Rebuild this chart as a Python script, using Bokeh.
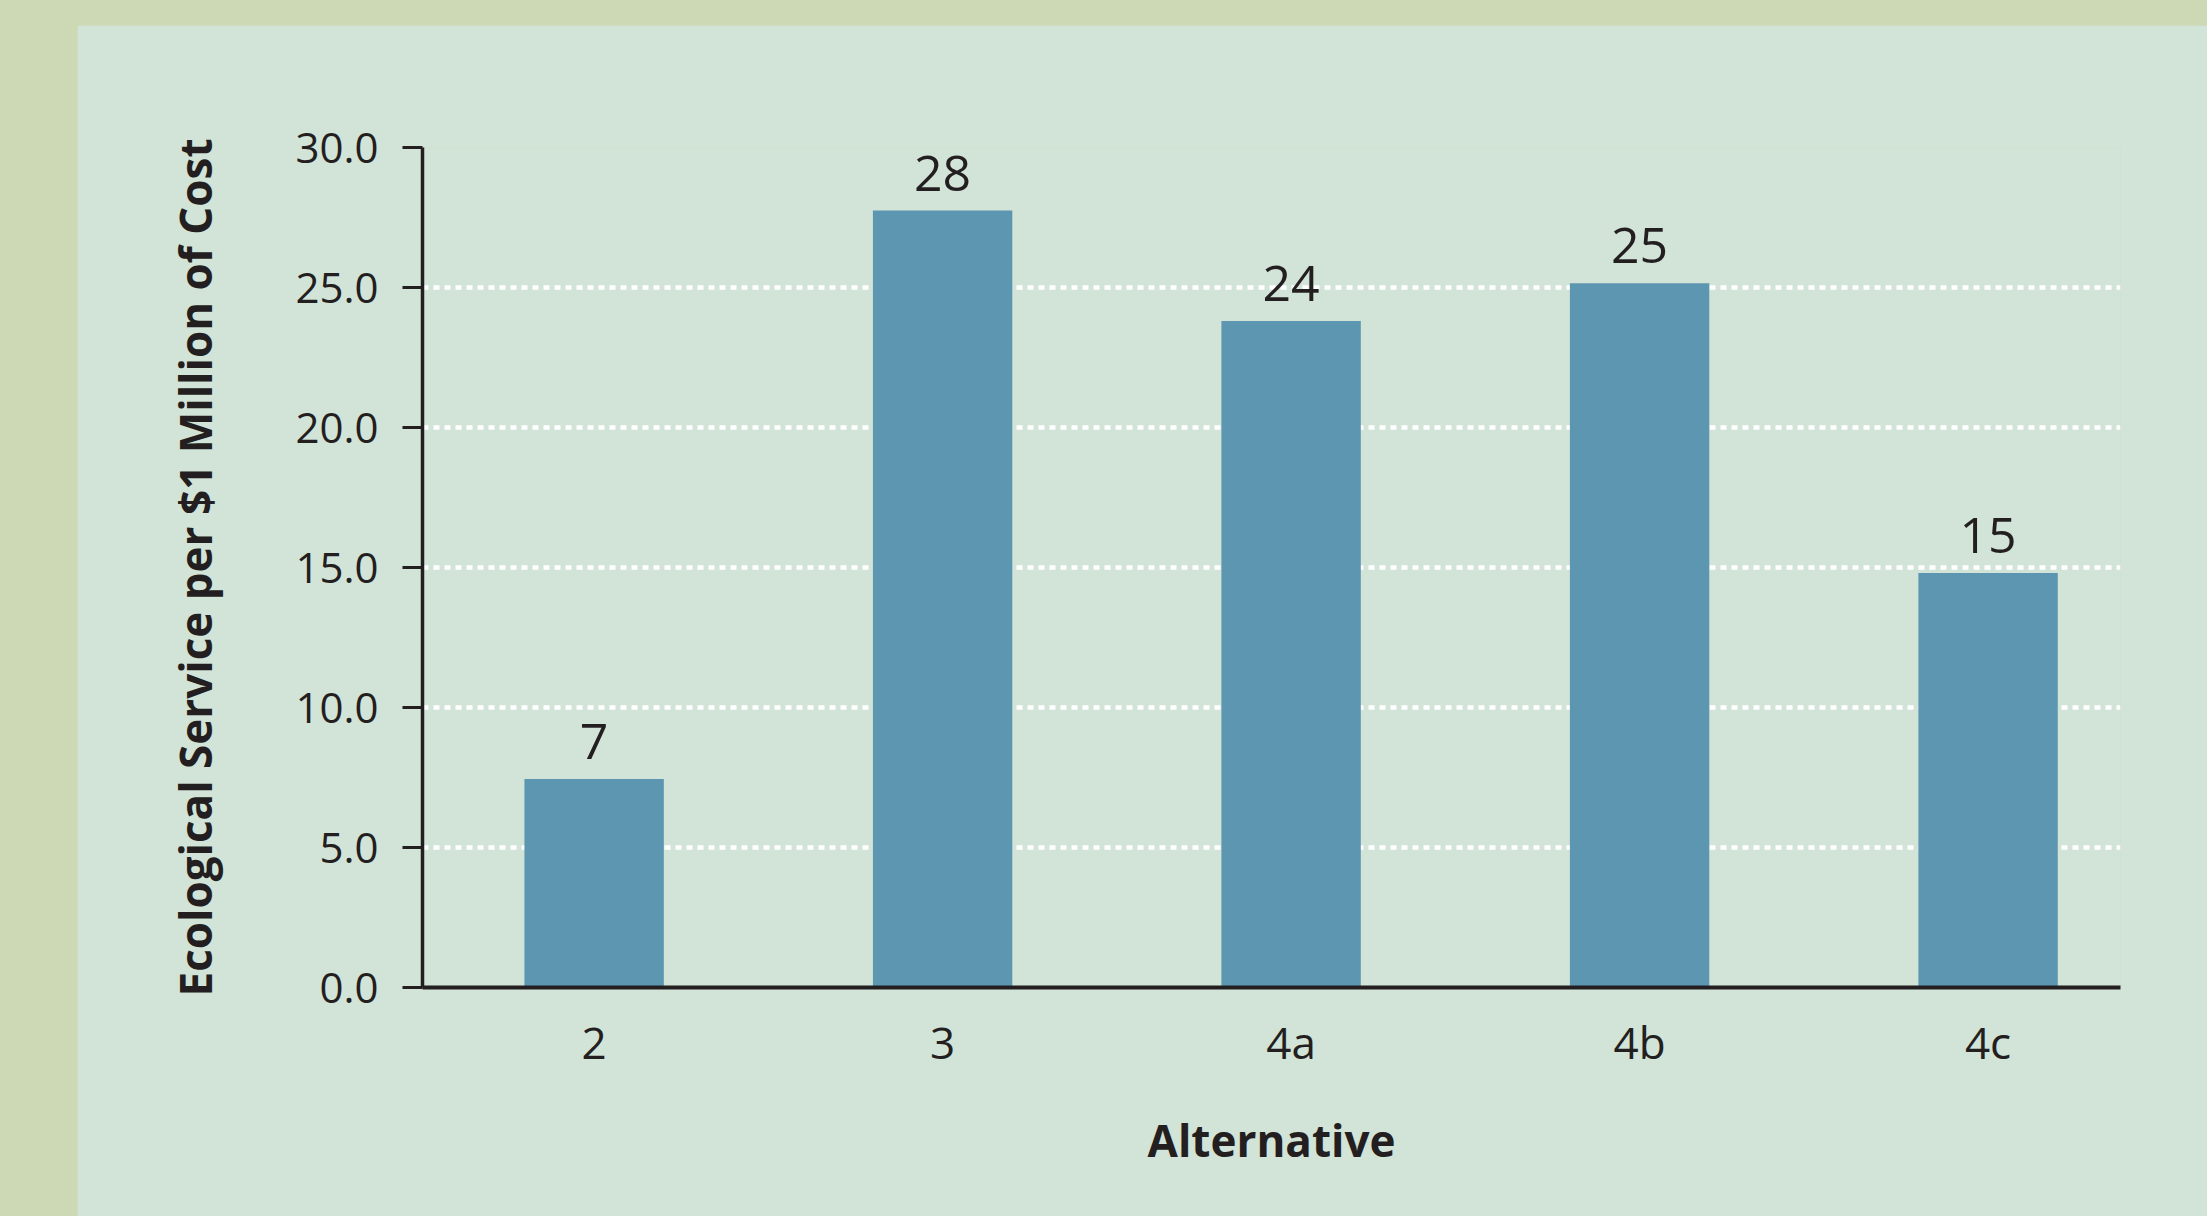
from bokeh.plotting import figure
from bokeh.models import ColumnDataSource, LabelSet, NumeralTickFormatter, Range1d, FixedTicker
from bokeh.core.properties import value
from bokeh.layouts import column
from bokeh.embed import file_html
from bokeh.resources import INLINE

# ---- data ----
categories = ["2", "3", "4a", "4b", "4c"]
values = [7.45, 27.75, 23.8, 25.15, 14.8]
value_labels = ["7", "28", "24", "25", "15"]
y_ticks = [0, 5, 10, 15, 20, 25, 30]
x_title = "Alternative"
y_title = "Ecological Service per $1 Million of Cost"

# ---- style ----
PANEL = "#d2e3d8"
OUTER = "#ccd9b4"
BAR = "#5c96b1"
INK = "#231f20"

positions = list(range(len(categories)))
src = ColumnDataSource(dict(x=positions, cat=categories, top=values, label=value_labels))

p = figure(width=2130, height=1191, output_backend="svg", toolbar_location=None,
           x_range=Range1d(-0.4925, 4.38), y_range=Range1d(0, 30),
           min_border_left=345, min_border_right=87, min_border_top=122,
           min_border_bottom=229)
p.margin = (25, 0, 0, 77)
p.background_fill_color = PANEL
p.border_fill_color = PANEL
p.outline_line_color = None

p.vbar(x="x", top="top", bottom=0, width=0.4, source=src,
       fill_color=BAR, line_color=None)

labels = LabelSet(x="x", y="top", text="label", source=src, y_offset=20,
                  text_align="center", text_baseline="alphabetic",
                  text_font=value("Open Sans"), text_font_size=value("50px"),
                  text_color=INK)
p.add_layout(labels)

# grid
p.xgrid.visible = False
p.ygrid.ticker = FixedTicker(ticks=y_ticks[1:])
p.ygrid.grid_line_color = "white"
p.ygrid.grid_line_width = 4.5
p.ygrid.grid_line_dash = "6 5"

# y axis
ya = p.yaxis[0]
ya.ticker = FixedTicker(ticks=y_ticks)
ya.formatter = NumeralTickFormatter(format="0.0")
ya.axis_line_color = INK
ya.axis_line_width = 3.5
ya.major_tick_line_color = INK
ya.major_tick_line_width = 3
ya.major_tick_out = 20
ya.major_tick_in = 0
ya.minor_tick_line_color = None
ya.major_label_text_font = "Open Sans"
ya.major_label_text_font_size = "42px"
ya.major_label_text_color = INK
ya.major_label_standoff = 24
ya.axis_label = y_title
ya.axis_label_text_font = "Open Sans"
ya.axis_label_text_font_style = "bold"
ya.axis_label_text_font_size = "44px"
ya.axis_label_text_color = INK
ya.axis_label_standoff = 67

# x axis
xa = p.xaxis[0]
xa.ticker = FixedTicker(ticks=positions)
xa.major_label_overrides = {i: c for i, c in zip(positions, categories)}
xa.axis_line_color = INK
xa.axis_line_width = 4
xa.major_tick_line_color = None
xa.major_tick_out = 0
xa.major_tick_in = 0
xa.minor_tick_line_color = None
xa.major_label_text_font = "Open Sans"
xa.major_label_text_font_size = "44px"
xa.major_label_text_color = INK
xa.major_label_standoff = 24
xa.axis_label = x_title
xa.axis_label_text_font = "Open Sans"
xa.axis_label_text_font_style = "bold"
xa.axis_label_text_font_size = "44px"
xa.axis_label_text_color = INK
xa.axis_label_standoff = 35

layout = column(p, styles={"background-color": OUTER})

open("out.html", "w").write(file_html(layout, INLINE))
